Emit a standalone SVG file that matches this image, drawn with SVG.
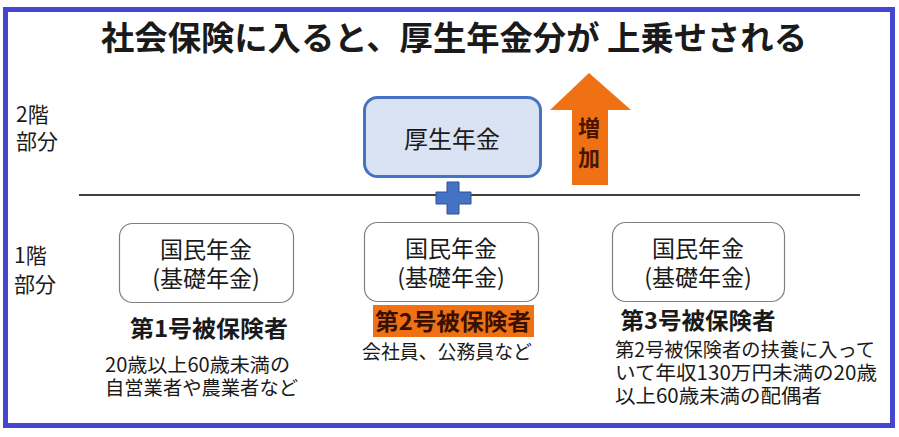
<svg xmlns="http://www.w3.org/2000/svg" width="899" height="437" viewBox="0 0 899 437">
<style>
text{font-family:"Noto Sans CJK JP","Noto Sans",sans-serif;fill:#1a1a1a}
.b{font-weight:bold}
.c{text-anchor:middle}
.kb{fill:#fff;stroke:#7f7f7f;stroke-width:1.2}
.t22{font-size:23px}
.t19{font-size:19.5px}
</style>
<rect x="0" y="0" width="899" height="437" fill="#fff"/>
<rect x="5.5" y="9.5" width="887" height="416" fill="none" stroke="#4646D2" stroke-width="5"/>
<g id="title"><text x="454" y="50" class="b c" font-size="33" textLength="706" lengthAdjust="spacingAndGlyphs">社会保険に入ると、厚生年金分が 上乗せされる</text></g>
<g id="levels">
<text x="16" y="122" font-size="21">2階</text>
<text x="16" y="149" font-size="21">部分</text>
<text x="14" y="263" font-size="21">1階</text>
<text x="14" y="292" font-size="21">部分</text>
</g>
<g id="connectors">
<line x1="79" y1="195" x2="860" y2="195" stroke="#000" stroke-width="1.3"/>
</g>
<g id="kosei">
<rect x="364.5" y="97.5" width="176" height="79" rx="13" fill="#DAE3F3" stroke="#4472C4" stroke-width="3"/>
<text x="452" y="148" class="c" font-size="24">厚生年金</text>
</g>
<g id="plus">
<path d="M447,182 H459 V192 H471 V204 H459 V214 H447 V204 H436 V192 H447 Z" fill="#4472C4" stroke="#2F528F" stroke-width="1"/>
</g>
<g id="arrow">
<path d="M589,73 L631,110 H608 V185 H572 V110 H550 Z" fill="#F07014"/>
<text x="589" y="136" class="b c" font-size="22" style="fill:#4a1500">増</text>
<text x="589" y="166" class="b c" font-size="22" style="fill:#4a1500">加</text>
</g>
<g id="kokumin1">
<rect x="119.5" y="223.5" width="174" height="79" rx="13" class="kb"/>
<text x="206" y="258" class="c t22">国民年金</text>
<text x="206" y="287" class="c t22">(基礎年金)</text>
</g>
<g id="kokumin2">
<rect x="364.5" y="222.5" width="174" height="79" rx="13" class="kb"/>
<text x="451" y="257" class="c t22">国民年金</text>
<text x="451" y="286" class="c t22">(基礎年金)</text>
</g>
<g id="kokumin3">
<rect x="612.5" y="222.5" width="172" height="79" rx="13" class="kb"/>
<text x="698" y="257" class="c t22">国民年金</text>
<text x="698" y="286" class="c t22">(基礎年金)</text>
</g>
<g id="type1">
<text x="209" y="337" class="b c" font-size="23" textLength="158" lengthAdjust="spacingAndGlyphs">第1号被保険者</text>
<text x="105" y="372" class="t19" textLength="185" lengthAdjust="spacingAndGlyphs">20歳以上60歳未満の</text>
<text x="105" y="395" class="t19" textLength="193" lengthAdjust="spacingAndGlyphs">自営業者や農業者など</text>
</g>
<g id="type2">
<rect x="373" y="305" width="161" height="32" fill="#F07014"/>
<text x="453" y="330" class="b c" font-size="23" textLength="156" lengthAdjust="spacingAndGlyphs" style="fill:#3a1000">第2号被保険者</text>
<text x="362" y="359" class="t19" textLength="170" lengthAdjust="spacingAndGlyphs">会社員、公務員など</text>
</g>
<g id="type3">
<text x="698" y="329" class="b c" font-size="23" textLength="155" lengthAdjust="spacingAndGlyphs">第3号被保険者</text>
<text x="615" y="357" class="t19" textLength="260" lengthAdjust="spacingAndGlyphs">第2号被保険者の扶養に入って</text>
<text x="615" y="380" class="t19" textLength="262" lengthAdjust="spacingAndGlyphs">いて年収130万円未満の20歳</text>
<text x="615" y="403" class="t19" textLength="207" lengthAdjust="spacingAndGlyphs">以上60歳未満の配偶者</text>
</g>
</svg>
